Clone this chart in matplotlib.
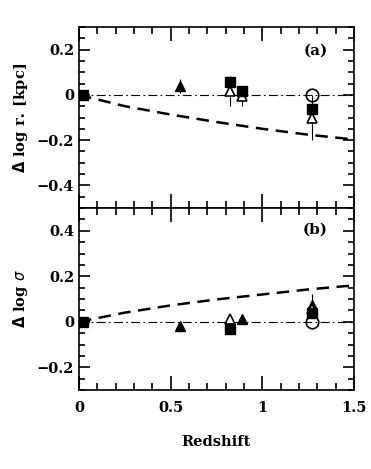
import matplotlib
matplotlib.use("Agg")
import matplotlib.pyplot as plt
from matplotlib.ticker import MultipleLocator

# ---- data ----
curve_z = [0.0, 0.25, 0.5, 0.75, 1.0, 1.25, 1.5]
curve_r = [0.0, -0.05, -0.087, -0.12, -0.15, -0.176, -0.197]
curve_s = [0.0, 0.04, 0.072, 0.098, 0.12, 0.142, 0.16]

# panel (a): size offsets
a_sq_z = [0.02, 0.825, 0.89, 1.27]
a_sq_y = [0.0, 0.058, 0.018, -0.064]
a_ftri_z = [0.55]
a_ftri_y = [0.04]
a_ftri_err = [0.03]
a_otri_z = [0.825, 0.89, 1.27]
a_otri_y = [0.018, -0.004, -0.10]
a_otri_err = [0.065, 0.045, 0.10]
a_circ_z = [1.27]
a_circ_y = [0.0]

# panel (b): dispersion offsets
b_sq_z = [0.02, 0.825, 1.27]
b_sq_y = [0.0, -0.034, 0.04]
b_ftri_z = [0.55, 0.89, 1.27]
b_ftri_y = [-0.02, 0.01, 0.075]
b_ftri_err = [0.02, 0.02, 0.045]
b_otri_z = [0.825, 1.27]
b_otri_y = [0.01, 0.054]
b_circ_z = [1.27]
b_circ_y = [0.0]

FONT = dict(family="DejaVu Serif", weight="bold")

fig = plt.figure(figsize=(3.71, 4.69), dpi=100)
L, R = 79/371, 354/371
top_a, bot_a = 1-27/469, 1-208/469
bot_b = 1-390/469
ax1 = fig.add_axes([L, bot_a, R-L, top_a-bot_a])
ax2 = fig.add_axes([L, bot_b, R-L, bot_a-bot_b])

ms = 7
for ax in (ax1, ax2):
    ax.set_xlim(0, 1.5)
    ax.axhline(0, color="k", lw=0.8, ls=(0, (8, 3, 1.5, 3)), zorder=1)
    ax.xaxis.set_major_locator(MultipleLocator(0.5))
    ax.xaxis.set_minor_locator(MultipleLocator(0.1))
    ax.yaxis.set_major_locator(MultipleLocator(0.2))
    ax.yaxis.set_minor_locator(MultipleLocator(0.05))
    ax.tick_params(which="both", direction="in", top=True, right=True, width=1.2)
    ax.tick_params(which="major", length=8)
    ax.tick_params(which="minor", length=4)
    ax.tick_params(axis="x", which="major", length=10)
    ax.tick_params(axis="x", which="minor", length=5)
    for s in ax.spines.values():
        s.set_linewidth(1.2)

# panel a
ax1.set_ylim(-0.5, 0.3)
ax1.plot(curve_z, curve_r, color="k", lw=1.8, ls=(0, (5, 3)), zorder=2)
ax1.errorbar(a_otri_z, a_otri_y, yerr=a_otri_err, fmt="^", mfc="white", mec="k",
             mew=1.2, ms=ms, ecolor="k", elinewidth=0.8, capsize=0, zorder=3)
ax1.errorbar(a_ftri_z, a_ftri_y, yerr=a_ftri_err, fmt="^", color="k", ms=ms,
             elinewidth=0.8, capsize=0, zorder=4)
ax1.plot(a_sq_z, a_sq_y, "s", color="k", ms=6.5, zorder=5)
ax1.plot(a_circ_z, a_circ_y, "o", mfc="none", mec="k", mew=1.2, ms=9, zorder=5)
ax1.tick_params(axis="x", labelbottom=False)
ax1.set_yticks([-0.4, -0.2, 0, 0.2])
ax1.set_yticklabels(["\u22120.4", "\u22120.2", "0", "0.2"], **FONT, fontsize=10.5)
ax1.text(0.905, 0.87, "(a)", transform=ax1.transAxes, ha="right", va="center",
         fontsize=11, **FONT)
ax1.set_ylabel(r"$\mathbf{\Delta}$ log r$_{\bullet}$ [kpc]", fontsize=10.5, **FONT,
               labelpad=5)

# panel b
ax2.set_ylim(-0.3, 0.5)
ax2.plot(curve_z, curve_s, color="k", lw=1.8, ls=(0, (5, 3)), zorder=2)
ax2.errorbar(b_ftri_z, b_ftri_y, yerr=b_ftri_err, fmt="^", color="k", ms=ms,
             elinewidth=0.8, capsize=0, zorder=3)
ax2.plot(b_otri_z, b_otri_y, "^", mfc="white", mec="k", mew=1.2, ms=ms, zorder=4)
ax2.plot(b_sq_z, b_sq_y, "s", color="k", ms=6.5, zorder=5)
ax2.plot(b_circ_z, b_circ_y, "o", mfc="none", mec="k", mew=1.2, ms=9, zorder=5)
ax2.set_yticks([-0.2, 0, 0.2, 0.4])
ax2.set_yticklabels(["\u22120.2", "0", "0.2", "0.4"], **FONT, fontsize=10.5)
ax2.set_xticks([0, 0.5, 1, 1.5])
ax2.set_xticklabels(["0", "0.5", "1", "1.5"], **FONT, fontsize=10.5)
ax2.tick_params(axis="x", pad=8)
ax2.text(0.905, 0.88, "(b)", transform=ax2.transAxes, ha="right", va="center",
         fontsize=11, **FONT)
ax2.set_ylabel(r"$\mathbf{\Delta}$ log $\sigma$", fontsize=10.5, **FONT, labelpad=5)
ax2.set_xlabel("Redshift", fontsize=10.5, **FONT, labelpad=14)

fig.align_ylabels([ax1, ax2])
fig.savefig("out.png", dpi=100)
